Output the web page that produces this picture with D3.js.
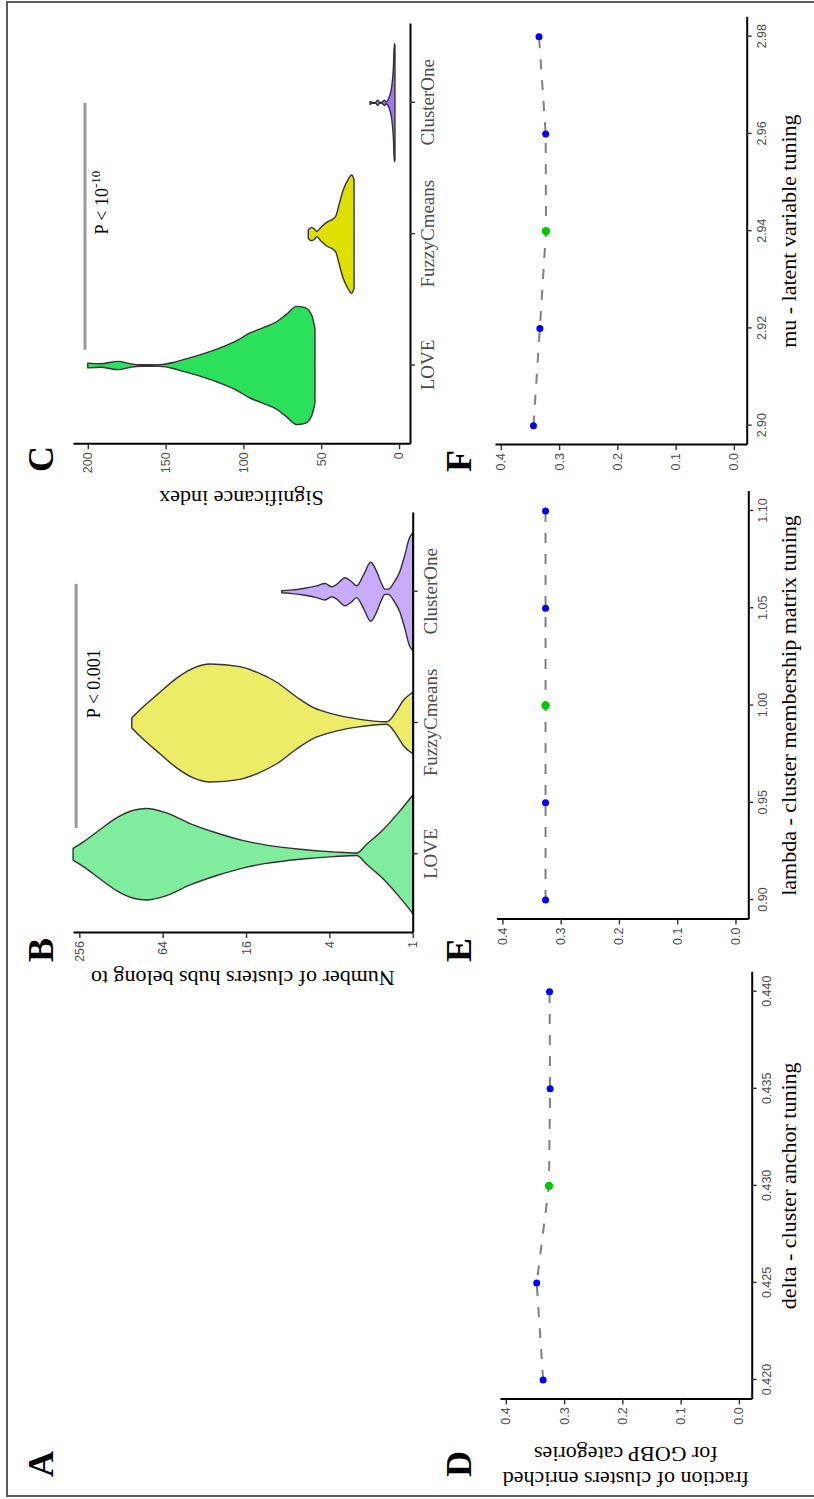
<!DOCTYPE html>
<html>
<head>
<meta charset="utf-8">
<script src="https://cdn.jsdelivr.net/npm/d3@7"></script>
<style>
  html, body { margin: 0; padding: 0; background: #fff; }
  svg { display: block; }
</style>
</head>
<body>
<svg id="fig" width="814" height="1499"></svg>
<script>
// ---------------- data ----------------
const methods = ["LOVE", "FuzzyCmeans", "ClusterOne"];
const methodColors = ["#2BE05B", "#E0E000", "#A473F7"];

// Panel B: number of clusters each hub belongs to (violin outline: value, relative half-width)
const hubLoveValues   = [284, 239, 181, 137, 104, 84, 60, 40.6, 26, 16.7, 11.4, 6.5, 3.74, 2.54, 2.15, 1.63, 1.24, 1];
const hubLoveWidths   = [0.10, 0.21, 0.42, 0.62, 0.745, 0.775, 0.70, 0.52, 0.36, 0.23, 0.155, 0.085, 0.04, 0.02, 0.17, 0.42, 0.73, 1.0];
const hubFuzzyValues  = [107, 88, 67, 50.7, 38.4, 29.1, 17.7, 13.4, 9.6, 6.9, 5.2, 3.74, 2.54, 1.54, 1.31, 1.17, 1];
const hubFuzzyWidths  = [0.085, 0.28, 0.52, 0.76, 0.93, 1.0, 0.955, 0.86, 0.69, 0.44, 0.26, 0.15, 0.07, 0.02, 0.2, 0.38, 0.52];
const hubClOneValues  = [8.84, 7.70, 6.17, 4.94, 4.30, 3.85, 3.54, 3.08, 2.76, 2.54, 2.27, 2.01, 1.82, 1.68, 1.59, 1.50, 1.38, 1.24, 1.14, 1.06, 1];
const hubClOneWidths  = [0.017, 0.028, 0.056, 0.10, 0.14, 0.085, 0.124, 0.237, 0.17, 0.10, 0.28, 0.50, 0.34, 0.14, 0.045, 0.045, 0.14, 0.34, 0.62, 0.90, 1.0];
const hubTicks = [1, 4, 16, 64, 256];

// Panel C: significance index
const sigLoveValues   = [200, 192, 180.3, 172.8, 166.5, 153.6, 145.1, 138.6, 127.9, 112.9, 104.3, 95.8, 87.2, 78.6, 72.2, 65.8, 60.4, 56.1, 54];
const sigLoveWidths   = [0.04, 0.03, 0.07, 0.03, 0.012, 0.015, 0.05, 0.10, 0.18, 0.32, 0.42, 0.55, 0.64, 0.74, 0.87, 1.0, 0.98, 0.85, 0.63];
const sigFuzzyValues  = [58.3, 56.5, 54.5, 52.9, 50, 46.5, 42.2, 40.5, 39, 37.9, 35.8, 33.6, 30.4, 28.9];
const sigFuzzyWidths  = [0.07, 0.11, 0.09, 0.045, 0.12, 0.2, 0.26, 0.31, 0.45, 0.56, 0.75, 0.88, 1.0, 0.92];
const sigClOneValues  = [18.6, 17, 15, 13.7, 12.5, 11, 9.4, 8.3, 7, 6, 4.7, 3.6, 3.0, 2.6];
const sigClOneWidths  = [0.025, 0.008, 0.008, 0.045, 0.01, 0.008, 0.045, 0.015, 0.05, 0.12, 0.27, 0.6, 1.0, 0.97];
const sigTicks = [0, 50, 100, 150, 200];

// Significance brackets (value level, start/end in category units)
const hubBracketLevel = 270;
const hubBracketSpan = [0.2, 2.06];
const sigBracketLevel = 201.8;
const sigBracketSpan = [0.12, 2.0];

// Panels D-F: fraction of clusters enriched for GOBP categories
const deltaValues    = [0.420, 0.425, 0.430, 0.435, 0.440];
const deltaFraction  = [0.336, 0.347, 0.326, 0.324, 0.325];
const lambdaValues   = [0.90, 0.95, 1.00, 1.05, 1.10];
const lambdaFraction = [0.326, 0.326, 0.326, 0.326, 0.326];
const muValues       = [2.90, 2.92, 2.94, 2.96, 2.98];
const muFraction     = [0.344, 0.333, 0.3225, 0.323, 0.3345];
const selectedIndex  = 2;
const fracTicks = [0, 0.1, 0.2, 0.3, 0.4];

// ---------------- drawing ----------------
const SERIF = "'Liberation Serif', 'Times New Roman', serif";
const SANS = "'Liberation Sans', Arial, sans-serif";
const TICK_GREY = "#4D4D4D";

const svg = d3.select("#fig");
// The figure is laid out landscape (1499 x 814) and turned a quarter turn.
const root = svg.append("g").attr("transform", "translate(0,1499) rotate(-90)");

root.append("rect")
  .attr("x", 3).attr("y", 7).attr("width", 1494).attr("height", 840)
  .attr("fill", "none").attr("stroke", "#5c5c5c").attr("stroke-width", 2);

function styleAxis(g, family, size) {
  g.attr("font-family", null).attr("font-size", null);
  g.select(".domain").attr("stroke", "#000").attr("stroke-width", 2);
  g.selectAll(".tick line").attr("stroke", "#333").attr("stroke-width", 1.4);
  g.selectAll(".tick text").attr("fill", TICK_GREY)
    .style("font-family", family).style("font-size", size + "px");
}

function panelLabel(txt, x, y) {
  root.append("text").attr("x", x).attr("y", y).text(txt)
    .style("font-family", SERIF).style("font-size", "36px").style("font-weight", "bold");
}

function drawViolin(g, x, y, cat, values, widths, color, opacity) {
  const half = 0.45 * x.step();
  const cx = x(cat);
  const pts = values.map((v, i) => ({ v, w: widths[i] }))
    .sort((a, b) => y(a.v) - y(b.v));
  const area = d3.area()
    .y(d => y(d.v))
    .x0(d => cx - d.w * half)
    .x1(d => cx + d.w * half)
    .curve(d3.curveMonotoneY);
  g.append("path").attr("d", area(pts))
    .attr("fill", color).attr("fill-opacity", opacity)
    .attr("stroke", "#333").attr("stroke-width", 1.4).attr("stroke-linejoin", "round");
}

function violinPanel(opts) {
  const g = root.append("g");
  const x = d3.scalePoint().domain(methods).range(opts.xRange).padding(0.6);
  const y = opts.y;
  opts.violins.forEach((vv, i) => drawViolin(g, x, y, methods[i], vv[0], vv[1], methodColors[i], opts.opacity));

  // significance bracket and label
  const pos = t => x(methods[0]) + t * x.step();
  const by = y(opts.bracketLevel);
  g.append("line").attr("x1", pos(opts.bracketSpan[0])).attr("x2", pos(opts.bracketSpan[1]))
    .attr("y1", by).attr("y2", by).attr("stroke", "#9a9a9a").attr("stroke-width", 3);
  const t = g.append("text").attr("x", pos(opts.labelPos)).attr("y", by + opts.labelDrop)
    .attr("text-anchor", "middle").style("font-family", SERIF).style("font-size", "18px");
  opts.labelParts(t);

  const xa = g.append("g").attr("transform", `translate(0,${opts.xRange === undefined ? 0 : y.range()[0]})`)
    .call(d3.axisBottom(x).tickSize(5).tickSizeOuter(0).tickPadding(6));
  styleAxis(xa, SERIF, 19);

  const ya = g.append("g").attr("transform", `translate(${opts.xRange[0]},0)`)
    .call(d3.axisLeft(y).tickValues(opts.ticks).tickFormat(d3.format("d")).tickSize(5).tickSizeOuter(0).tickPadding(3));
  styleAxis(ya, SANS, 12.5);

  const cy = (y.range()[0] + y.range()[1]) / 2;
  g.append("text").attr("transform", `translate(${opts.titleX},${cy}) rotate(-90)`)
    .attr("text-anchor", "middle").text(opts.title)
    .style("font-family", SERIF).style("font-size", "22px");
}

// Panel B
violinPanel({
  xRange: [566, 986],
  y: d3.scaleLog().base(2).domain([1, 284.5]).range([412.7, 73]),
  ticks: hubTicks,
  violins: [[hubLoveValues, hubLoveWidths], [hubFuzzyValues, hubFuzzyWidths], [hubClOneValues, hubClOneWidths]],
  opacity: 0.6,
  bracketLevel: hubBracketLevel, bracketSpan: hubBracketSpan,
  labelPos: 1.3, labelDrop: 24,
  labelParts: t => t.text("P < 0.001"),
  title: "Number of clusters hubs belong to", titleX: 528
});

// Panel C
violinPanel({
  xRange: [1054.7, 1475],
  y: d3.scaleLinear().domain([-7.07, 209.5]).range([410, 73]),
  ticks: sigTicks,
  violins: [[sigLoveValues, sigLoveWidths], [sigFuzzyValues, sigFuzzyWidths], [sigClOneValues, sigClOneWidths]],
  opacity: 1,
  bracketLevel: sigBracketLevel, bracketSpan: sigBracketSpan,
  labelPos: 1.24, labelDrop: 23,
  labelParts: t => {
    t.append("tspan").text("P < 10");
    t.append("tspan").text("-10").attr("dy", -8).style("font-size", "13px");
  },
  title: "Significance index", titleX: 1008
});

// Parameter tuning panels
function tuningPanel(opts) {
  const g = root.append("g");
  const x = d3.scaleLinear().domain(opts.xDomain).range(opts.xRange);
  const y = d3.scaleLinear().domain([-0.022, 0.41]).range(opts.yRange);
  const pts = opts.params.map((p, i) => ({ p, f: opts.fractions[i], sel: i === selectedIndex }));

  g.append("path").attr("d", d3.line().x(d => x(d.p)).y(d => y(d.f))(pts))
    .attr("fill", "none").attr("stroke", "#808080").attr("stroke-width", 2)
    .attr("stroke-dasharray", "10,11");
  g.selectAll("circle").data(pts).join("circle")
    .attr("cx", d => x(d.p)).attr("cy", d => y(d.f))
    .attr("r", d => d.sel ? 4.2 : 3.5)
    .attr("fill", d => d.sel ? "#00C800" : "#0000FF");

  const xa = g.append("g").attr("transform", `translate(0,${opts.yRange[0]})`)
    .call(d3.axisBottom(x).tickValues(opts.params).tickFormat(d3.format(opts.fmt)).tickSize(5).tickSizeOuter(0).tickPadding(5));
  styleAxis(xa, SANS, 12.5);
  const ya = g.append("g").attr("transform", `translate(${opts.xRange[0]},0)`)
    .call(d3.axisLeft(y).tickValues(fracTicks).tickFormat(d3.format(".1f")).tickSize(5).tickSizeOuter(0).tickPadding(3));
  styleAxis(ya, SANS, 12.5);

  g.append("text").attr("x", (opts.xRange[0] + opts.xRange[1]) / 2).attr("y", 796)
    .attr("text-anchor", "middle").text(opts.xTitle)
    .style("font-family", SERIF).style("font-size", "22px");

  if (opts.yTitle) {
    const cy = (opts.yRange[0] + opts.yRange[1]) / 2;
    opts.yTitle.forEach((line, i) => {
      g.append("text").attr("transform", `translate(${opts.yTitleX[i]},${cy}) rotate(-90)`)
        .attr("text-anchor", "middle").text(line)
        .style("font-family", SERIF).style("font-size", "22px");
    });
  }
}

tuningPanel({
  params: deltaValues, fractions: deltaFraction, fmt: ".3f",
  xDomain: [0.419, 0.441], xRange: [99.6, 526.7], yRange: [751.7, 500],
  xTitle: "delta - cluster anchor tuning",
  yTitle: ["fraction of clusters enriched", "for GOBP categories"], yTitleX: [27, 52]
});
tuningPanel({
  params: lambdaValues, fractions: lambdaFraction, fmt: ".2f",
  xDomain: [0.89, 1.11], xRange: [579.5, 1007.5], yRange: [748.3, 496.6],
  xTitle: "lambda - cluster membership matrix tuning"
});
tuningPanel({
  params: muValues, fractions: muFraction, fmt: ".2f",
  xDomain: [2.896, 2.984], xRange: [1053.9, 1481.8], yRange: [746.7, 495],
  xTitle: "mu - latent variable tuning"
});

// Panel letters
panelLabel("A", 22, 53);
panelLabel("B", 537, 53);
panelLabel("C", 1027, 53);
panelLabel("D", 22, 471);
panelLabel("E", 537, 471);
panelLabel("F", 1027, 471);
</script>
</body>
</html>
